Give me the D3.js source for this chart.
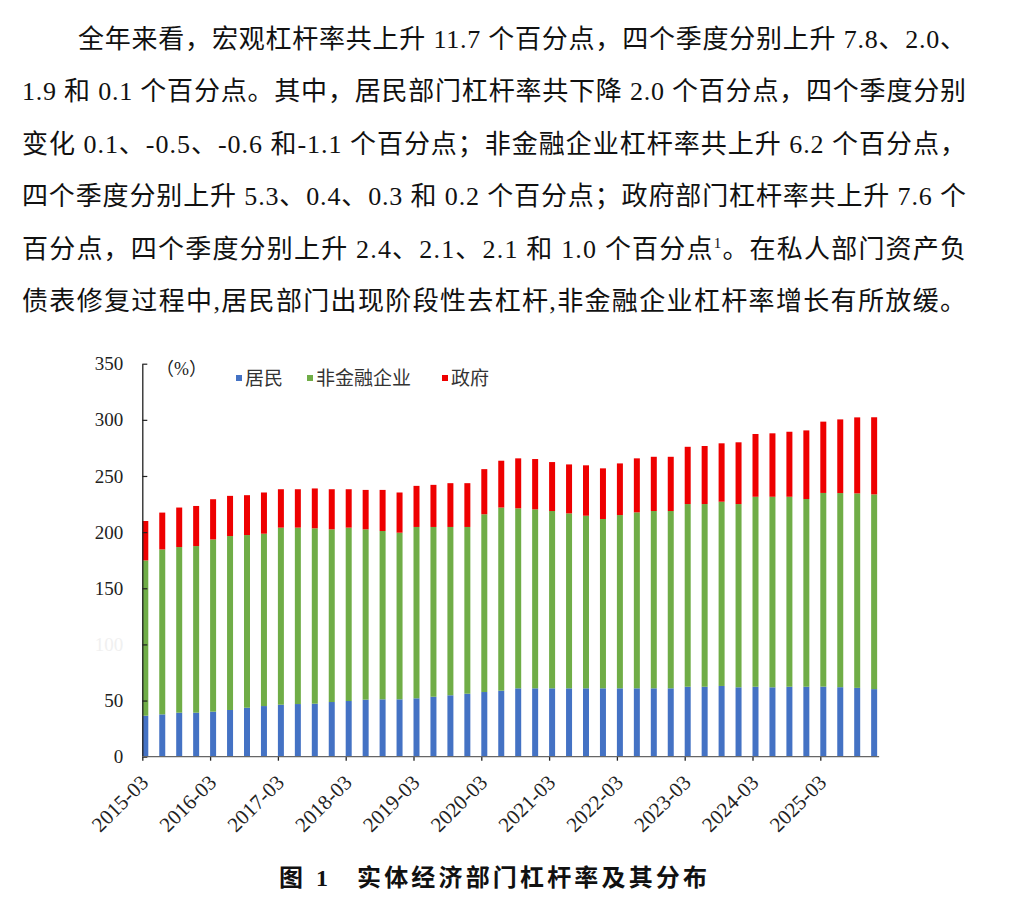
<!DOCTYPE html>
<html>
<head>
<meta charset="utf-8">
<title>实体经济部门杠杆率及其分布</title>
<script src="https://cdn.jsdelivr.net/npm/d3@7"></script>
<style>
  body { margin: 0; background: #fff; }
  svg { display: block; }
</style>
</head>
<body>
<script>

// 季度
var quarters = ["2015-03","2015-06","2015-09","2015-12",
                "2016-03","2016-06","2016-09","2016-12",
                "2017-03","2017-06","2017-09","2017-12",
                "2018-03","2018-06","2018-09","2018-12",
                "2019-03","2019-06","2019-09","2019-12",
                "2020-03","2020-06","2020-09","2020-12",
                "2021-03","2021-06","2021-09","2021-12",
                "2022-03","2022-06","2022-09","2022-12",
                "2023-03","2023-06","2023-09","2023-12",
                "2024-03","2024-06","2024-09","2024-12",
                "2025-03","2025-06","2025-09","2025-12"];

// 居民
var household = [36.5,37.7,39.2,39.2,40.1,41.6,43.6,45.1,46.3,46.9,47.2,48.7,
                 49.6,50.8,51.1,51.1,52.0,53.4,54.7,56.1,57.6,58.8,60.9,60.9,
                 60.9,60.9,60.9,60.9,60.9,60.9,60.9,60.9,62.3,62.3,63.0,61.8,
                 62.3,61.8,62.3,62.3,62.4,61.9,61.3,60.2];

// 非金融企业
var nonfin = [138.3,146.9,147.5,148.4,153.4,154.9,153.8,153.5,157.7,157.1,156.2,153.8,
              154.4,151.7,149.9,148.4,152.6,151.2,149.9,148.5,158.3,163.1,160.3,159.4,
              157.9,155.8,153.7,150.8,154.3,156.7,157.9,157.9,162.7,162.7,164.1,163.2,
              169.2,169.7,169.2,167.2,172.5,172.9,173.2,173.4];

// 政府
var gov = [35.1,32.8,35.2,35.7,35.8,35.8,35.5,36.7,34.2,34.2,35.5,35.7,
           34.2,35.1,36.6,35.8,36.6,37.5,39.0,39.0,40.2,41.7,44.5,44.8,
           43.6,43.6,44.9,45.1,46.0,48.1,48.3,48.3,51.0,51.7,52.0,55.0,
           55.9,56.5,57.9,61.1,63.5,65.6,67.7,68.7];

var seriesNames = ["居民", "非金融企业", "政府"];
var seriesColors = ["#4472c4", "#70ad47", "#ee0000"];
var yTicks = [0, 50, 100, 150, 200, 250, 300, 350];

var width = 1024, height = 901;
var serif = "'Liberation Serif', 'Noto Sans CJK SC', serif";

var svg = d3.select("body").append("svg")
    .attr("width", width)
    .attr("height", height);

// ---- 正文段落 ----
var para = [
  {x: 78, t: [["全年来看，宏观杠杆率共上升 11.7 个百分点，四个季度分别上升 7.8、2.0、"]]},
  {x: 22, t: [["1.9 和 0.1 个百分点。其中，居民部门杠杆率共下降 2.0 个百分点，四个季度分别"]]},
  {x: 22, t: [["变化 0.1、-0.5、-0.6 和-1.1 个百分点；非金融企业杠杆率共上升 6.2 个百分点，"]]},
  {x: 22, t: [["四个季度分别上升 5.3、0.4、0.3 和 0.2 个百分点；政府部门杠杆率共上升 7.6 个"]]},
  {x: 22, t: [["百分点，四个季度分别上升 2.4、2.1、2.1 和 1.0 个百分点"], ["1", "sup"], ["。在私人部门资产负"]]},
  {x: 22, t: [["债表修复过程中,居民部门出现阶段性去杠杆,非金融企业杠杆率增长有所放缓。"]]}
];
var paraRight = 966;

para.forEach(function(line, i) {
  var txt = svg.append("text")
      .attr("x", line.x)
      .attr("y", 48 + i * 52.4)
      .attr("font-family", serif)
      .attr("font-size", 26)
      .attr("fill", "#111")
      .attr("textLength", paraRight - line.x)
      .attr("lengthAdjust", "spacing");
  line.t.forEach(function(p) {
    var ts = txt.append("tspan").text(p[0]);
    if (p[1] === "sup") {
      ts.attr("font-size", 15).attr("dy", -10);
    } else if (txt.selectAll("tspan").size() > 1) {
      ts.attr("dy", 10);
    }
  });
});

// ---- 图表 ----
var x = d3.scaleLinear()
    .domain([0, quarters.length])
    .range([142.3, 142.3 + quarters.length * 16.95]);

var y = d3.scaleLinear()
    .domain([0, 350])
    .range([756.7, 363.7]);

var rows = quarters.map(function(q, i) {
  return {q: q, i: i, "居民": household[i], "非金融企业": nonfin[i], "政府": gov[i]};
});

var stacked = d3.stack().keys(seriesNames)(rows);
var barW = 6;

svg.append("g")
  .selectAll("g")
  .data(stacked)
  .enter()
  .append("g")
  .attr("fill", function(d, k) { return seriesColors[k]; })
  .selectAll("rect")
  .data(function(d) { return d; })
  .enter()
  .append("rect")
  .attr("x", function(d) { return x(d.data.i); })
  .attr("y", function(d) { return y(d[1]); })
  .attr("width", barW)
  .attr("height", function(d) { return y(d[0]) - y(d[1]); });

// y 轴
var yAxis = d3.axisLeft(y)
    .tickValues(yTicks)
    .tickSizeInner(-5)
    .tickSizeOuter(0)
    .tickPadding(19);

var gy = svg.append("g")
    .attr("transform", "translate(" + x(0) + ",0)")
    .call(yAxis);
gy.select(".domain").attr("stroke", "#222").attr("stroke-width", 1.3);
gy.selectAll(".tick line").attr("stroke", "#222").attr("stroke-width", 1.2);
gy.selectAll(".tick text")
    .attr("font-family", serif)
    .attr("font-size", 19)
    .attr("fill", function(d) { return d === 100 ? "#f0f0f0" : "#222"; });

// x 轴
var yearTicks = d3.range(0, quarters.length, 4);
var xAxis = d3.axisBottom(x)
    .tickValues(yearTicks)
    .tickFormat(function(i) { return quarters[i]; })
    .tickSizeInner(4)
    .tickSizeOuter(0);

var gx = svg.append("g")
    .attr("transform", "translate(0," + y(0) + ")")
    .call(xAxis);
gx.select(".domain").remove();
gx.append("line")
    .attr("x1", x(0))
    .attr("x2", x(quarters.length - 1) + barW + 2)
    .attr("stroke", "#666")
    .attr("stroke-width", 1.3);
gx.selectAll(".tick line").attr("stroke", "#222").attr("stroke-width", 1.3);
gx.selectAll(".tick text")
    .attr("font-family", serif)
    .attr("font-size", 21)
    .attr("fill", "#222")
    .attr("text-anchor", "end")
    .attr("y", 0)
    .attr("dy", 0)
    .attr("transform", "translate(7,27) rotate(-45)");

// 单位
svg.append("text")
    .attr("x", 156)
    .attr("y", 375)
    .attr("font-family", serif)
    .attr("font-size", 18)
    .attr("fill", "#222")
    .text("（%）");

// 图例
var legendX = [236, 307, 442];
var legend = svg.append("g")
  .selectAll("g")
  .data(seriesNames)
  .enter()
  .append("g")
  .attr("transform", function(d, k) { return "translate(" + legendX[k] + ",375)"; });
legend.append("rect")
    .attr("width", 6)
    .attr("height", 6)
    .attr("fill", function(d, k) { return seriesColors[k]; });
legend.append("text")
    .attr("x", 9)
    .attr("y", 10)
    .attr("font-family", serif)
    .attr("font-size", 19)
    .attr("fill", "#333")
    .text(function(d) { return d; });

// 图题
var cap = svg.append("g")
    .attr("font-family", serif)
    .attr("font-size", 24)
    .attr("font-weight", "bold")
    .attr("fill", "#111");
cap.append("text").attr("x", 279).attr("y", 886).text("图");
cap.append("text").attr("x", 316).attr("y", 886).text("1");
cap.append("text")
    .attr("x", 357)
    .attr("y", 886)
    .attr("textLength", 350)
    .attr("lengthAdjust", "spacing")
    .text("实体经济部门杠杆率及其分布");

</script>
</body>
</html>
